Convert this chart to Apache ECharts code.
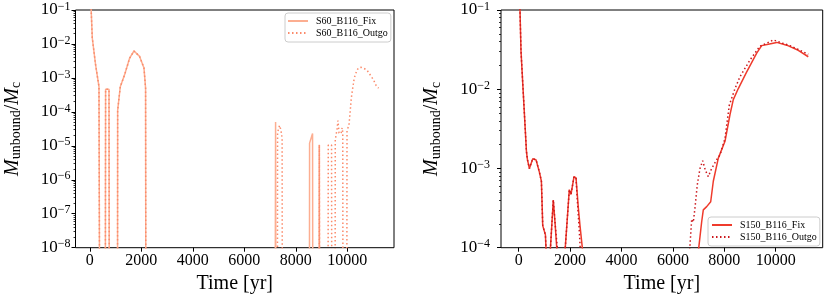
<!DOCTYPE html>
<html><head><meta charset="utf-8">
<script src="https://cdn.jsdelivr.net/npm/echarts@6/dist/echarts.min.js"></script>
<style>html,body{margin:0;padding:0;background:#fff;}#c{width:830px;height:301px;}</style>
</head><body><div id="c"></div>
<script>
// ---- data (time [yr], M_unbound/M_c); Z = value below the plotted range ----
const Z = 1e-12;
const xTicks = [0, 2000, 4000, 6000, 8000, 10000];
const leftYTicks = [1e-8, 1e-7, 1e-6, 1e-5, 1e-4, 1e-3, 1e-2, 1e-1];
const rightYTicks = [1e-4, 1e-3, 1e-2, 1e-1];
const minorMultipliers = [2, 3, 4, 5, 6, 7, 8, 9];

const s60Fix = [
  [0, 0.25], [50, 0.12], [97, 0.015], [226, 2.4e-3], [357, 5.5e-4], [375, 5e-4], [390, Z],
  [600, Z], [614, 4.6e-4], [746, 4.6e-4], [760, Z],
  [1075, Z], [1082, 1.1e-4], [1184, 5.5e-4], [1351, 1.23e-3], [1546, 3.8e-3], [1717, 6.2e-3],
  [1934, 4.3e-3], [2105, 1.95e-3], [2167, 5e-4], [2180, Z],
  [7195, Z], [7216, 5e-5], [7232, Z],
  [8528, Z], [8536, 1.2e-5], [8652, 2.3e-5], [8664, Z],
  [8905, Z], [8915, 1.07e-5], [8928, Z],
  [11215, Z]
];
const s60Outgo = [
  [0, 0.25], [50, 0.12], [97, 0.015], [226, 2.4e-3], [357, 5.5e-4], [375, 5e-4], [390, Z],
  [600, Z], [614, 4.6e-4], [746, 4.6e-4], [760, Z],
  [1075, Z], [1082, 1.1e-4], [1184, 5.5e-4], [1351, 1.23e-3], [1546, 3.8e-3], [1717, 6.2e-3],
  [1934, 4.3e-3], [2105, 1.95e-3], [2167, 5e-4], [2180, Z],
  [7285, Z], [7293, 2.5e-5], [7371, 4e-5], [7420, 3e-5], [7470, 1.7e-5], [7480, Z],
  [8905, Z], [8915, 1.07e-5], [8928, Z],
  [9250, Z], [9262, 1.05e-5], [9326, 1.2e-5], [9390, 1.05e-5], [9400, Z],
  [9525, Z], [9534, 1.5e-5], [9600, 3e-5], [9639, 5.5e-5], [9680, 2.4e-5], [9760, 2.3e-5],
  [9800, 3.4e-5], [9825, 2.5e-5], [9835, Z],
  [9980, Z], [9990, 2.8e-5], [10066, 4.1e-5], [10117, 1.1e-4], [10155, 2.5e-4], [10221, 5.6e-4],
  [10272, 1e-3], [10377, 1.7e-3], [10450, 2e-3], [10532, 2.05e-3], [10650, 1.9e-3], [10765, 1.7e-3],
  [10900, 1.2e-3], [11021, 8.7e-4], [11120, 6e-4], [11215, 5e-4]
];
const s150Fix = [
  [0, 0.3], [50, 0.1], [90, 3e-2], [301, 1.64e-3], [338, 1.3e-3], [416, 1.0e-3], [547, 1.33e-3],
  [677, 1.28e-3], [805, 9e-4], [883, 6.9e-4], [935, 1.9e-4], [1040, 1.45e-4], [1089, 6e-5], [1095, Z],
  [1210, Z], [1218, 8e-5], [1346, 4e-4], [1412, 2.1e-4], [1500, 8e-5], [1510, Z],
  [1795, Z], [1802, 9e-5], [1969, 5.4e-4], [2035, 4.7e-4], [2152, 7.9e-4], [2230, 7.6e-4],
  [2319, 3.2e-4], [2385, 1.9e-4], [2490, 9e-5], [2500, Z],
  [6970, Z], [6990, 9e-5], [7121, 2.14e-4], [7183, 3.0e-4], [7315, 3.3e-4], [7377, 3.2e-4],
  [7471, 3.8e-4], [7572, 6.9e-4], [7767, 1.35e-3], [8027, 2.2e-3], [8222, 4.8e-3], [8350, 7.4e-3],
  [8545, 1.02e-2], [8872, 1.66e-2], [9261, 2.85e-2], [9455, 3.55e-2], [9712, 3.7e-2], [10039, 3.9e-2],
  [10428, 3.6e-2], [10879, 3.1e-2], [11268, 2.57e-2]
];
const s150Outgo = [
  [0, 0.3], [50, 0.1], [90, 3e-2], [301, 1.64e-3], [338, 1.3e-3], [416, 1.0e-3], [547, 1.33e-3],
  [677, 1.28e-3], [805, 9e-4], [883, 6.9e-4], [935, 1.9e-4], [1040, 1.45e-4], [1089, 6e-5], [1095, Z],
  [1210, Z], [1218, 8e-5], [1346, 4e-4], [1412, 2.1e-4], [1530, 8e-5], [1540, Z],
  [1795, Z], [1802, 9e-5], [1969, 5.4e-4], [2035, 4.7e-4], [2152, 7.9e-4], [2230, 7.6e-4],
  [2280, 4e-4], [2350, 1.8e-4], [2400, 9e-5], [2410, Z],
  [6630, Z], [6650, 9e-5], [6732, 2.3e-4], [6794, 2.1e-4], [6860, 3.2e-4], [6949, 6.2e-4],
  [7054, 1e-3], [7160, 1.25e-3], [7261, 9.5e-4], [7377, 7.9e-4], [7510, 1e-3], [7704, 1.29e-3],
  [7833, 1.48e-3], [8027, 2.4e-3], [8195, 6.3e-3], [8416, 1.02e-2], [8611, 1.44e-2], [9000, 2.34e-2],
  [9389, 3.5e-2], [9650, 3.8e-2], [9907, 4.2e-2], [10167, 3.9e-2], [10556, 3.55e-2], [10946, 3.1e-2],
  [11268, 2.76e-2]
];
const names = ['S60_B116_Fix', 'S60_B116_Outgo', 'S150_B116_Fix', 'S150_B116_Outgo'];
const colors = ['#fcae91', '#fb8a6a', '#ef3b2c', '#cb181d'];

// ---- chart ----
const FONT = '"Liberation Serif", "DejaVu Serif", serif';
function minorLogs(lo, hi) {
  const out = [];
  for (let e = lo; e < hi; e++) minorMultipliers.forEach(m => out.push(e + Math.log10(m)));
  return out;
}
function yLab(v) { const e = Math.round(Math.log10(v)); return '{b|10}{s|\u2212' + (-e) + '}'; }
const yRich = {
  b: { fontSize: 17, fontFamily: FONT, color: '#000', lineHeight: 19 },
  s: { fontSize: 12, fontFamily: FONT, color: '#000', verticalAlign: 'top', lineHeight: 12 }
};
const yNameText = '{i|M}{u|unbound}{n|/}{i|M}{u|c}';
const yNameRich = {
  i: { fontSize: 20, fontStyle: 'italic', fontFamily: FONT, color: '#000', lineHeight: 22 },
  n: { fontSize: 20, fontFamily: FONT, color: '#000', lineHeight: 22 },
  u: { fontSize: 14, fontFamily: FONT, color: '#000', verticalAlign: 'bottom', lineHeight: 10 }
};
const tickStyle = { show: true, inside: false, length: 4, lineStyle: { color: '#000', width: 1 } };

function xAx(gi, min, max) {
  return {
    type: 'value', gridIndex: gi, min: min, max: max,
    name: 'Time [yr]', nameLocation: 'middle', nameGap: 25,
    nameTextStyle: { fontSize: 20, fontFamily: FONT, color: '#000' },
    axisLine: { show: false, onZero: false }, splitLine: { show: false },
    axisTick: Object.assign({ customValues: xTicks }, tickStyle),
    axisLabel: { customValues: xTicks, margin: 5, fontSize: 16, fontFamily: FONT, color: '#000',
      formatter: v => String(v) }
  };
}
function yAx(gi, min, max, gap, margin) {
  return {
    type: 'log', logBase: 10, gridIndex: gi, min: min, max: max, position: 'left',
    name: yNameText, nameLocation: 'middle', nameGap: gap, nameRotate: 90,
    nameTextStyle: { rich: yNameRich },
    axisLine: { show: false, onZero: false }, splitLine: { show: false }, minorTick: { show: false },
    axisTick: tickStyle,
    axisLabel: { margin: margin, formatter: yLab, rich: yRich }
  };
}
function yMinor(gi, lo, hi) {
  return {
    type: 'value', gridIndex: gi, min: lo, max: hi, position: 'left', offset: 0,
    axisLine: { show: false, onZero: false }, splitLine: { show: false }, axisLabel: { show: false },
    axisTick: { show: true, inside: false, length: 2, customValues: minorLogs(lo, hi),
      lineStyle: { color: '#000', width: 0.8 } }
  };
}
function lineSeries(i, xi, yi, data, dotted) {
  return {
    type: 'line', name: names[i], xAxisIndex: xi, yAxisIndex: yi, data: data,
    symbol: 'none', showSymbol: false, clip: true, animation: false,
    lineStyle: { color: colors[i], width: 1.5, type: dotted ? [1.5, 2.5] : 'solid', cap: 'butt' },
    itemStyle: { color: colors[i] }
  };
}
const legendText = { fontSize: 10, fontFamily: FONT, color: '#000', padding: [0, 0, 0, 3] };
const legendItemStyle = { color: 'rgba(0,0,0,0)', borderColor: 'rgba(0,0,0,0)', borderWidth: 0, opacity: 0 };
const option = {
  animation: false,
  grid: [
    { left: 75.5, top: 10, width: 318.5, height: 237.7, show: true, borderColor: '#000', borderWidth: 1,
      backgroundColor: 'transparent', containLabel: false, outerBoundsMode: 'none' },
    { left: 501, top: 10, width: 321.7, height: 237.7, show: true, borderColor: '#000', borderWidth: 1,
      backgroundColor: 'transparent', containLabel: false, outerBoundsMode: 'none' }
  ],
  xAxis: [xAx(0, -555, 11815), xAx(1, -689, 11829)],
  yAxis: [yAx(0, 1e-8, 1e-1, 52, 5), yAx(1, 1e-4, 1e-1, 58, 11), yMinor(0, -8, -1), yMinor(1, -4, -1)],
  legend: [
    { data: [names[0], names[1]], orient: 'vertical', left: 285, top: 13, itemWidth: 20, itemHeight: 10,
      itemGap: 2, padding: [3, 3, 4, 2], backgroundColor: 'rgba(255,255,255,0.8)', borderColor: '#ccc',
      borderWidth: 1, borderRadius: 3, textStyle: legendText, selectedMode: false, itemStyle: legendItemStyle },
    { data: [names[2], names[3]], orient: 'vertical', left: 708, top: 217, itemWidth: 20, itemHeight: 10,
      itemGap: 2, padding: [3, 3, 4, 3], backgroundColor: 'rgba(255,255,255,0.8)', borderColor: '#ccc',
      borderWidth: 1, borderRadius: 3, textStyle: legendText, selectedMode: false, itemStyle: legendItemStyle }
  ],
  series: [
    lineSeries(0, 0, 0, s60Fix, false),
    lineSeries(1, 0, 0, s60Outgo, true),
    lineSeries(2, 1, 1, s150Fix, false),
    lineSeries(3, 1, 1, s150Outgo, true)
  ]
};
const chart = echarts.init(document.getElementById('c'), null, { renderer: 'canvas' });
chart.setOption(option);
</script></body></html>
